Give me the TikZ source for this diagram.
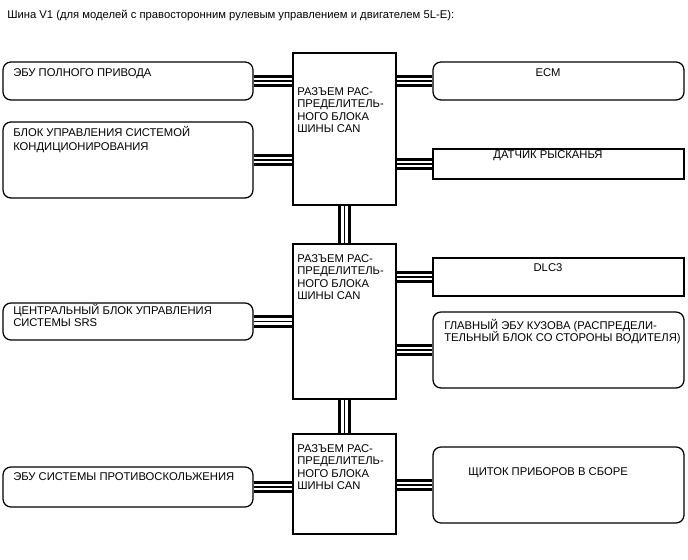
\documentclass[tikz,border=0pt]{standalone}
\usepackage{fontspec}
\setmainfont{Liberation Sans}
\usetikzlibrary{positioning}

\begin{document}
\begin{tikzpicture}[every node/.style={font=\fontsize{8}{9}\selectfont}]
  \tikzstyle{RoundBox}=[draw, line width=0.9pt, rounded corners=0.2cm, minimum width=6.25cm, inner sep=0pt]
  \tikzstyle{SquareBox}=[draw, line width=0.9pt, minimum width=6.275cm, inner sep=0pt]
  \tikzstyle{JBox}=[draw, line width=0.9pt, minimum width=2.575cm, inner sep=0pt]
  \tikzstyle{Txt}=[anchor=base west, align=left, inner sep=0pt]
  \tikzstyle{CTxt}=[anchor=base, inner sep=0pt]
  \tikzstyle{Bus}=[line width=0.9pt, preaction={draw, line width=9.2pt}, preaction={draw, white, line width=4.6pt}]
  \useasboundingbox (0,0) rectangle (17.2,14);

  \node[Txt] (title) at (0.175,13.525) {Шина V1 (для моделей с правосторонним рулевым управлением и двигателем 5L-E):};

  % junction blocks (multi-line texts are placed by their last line)
  \node[JBox, minimum height=3.8cm] (jb1) at (8.6125,10.775) {};
  \node[JBox, minimum height=3.875cm] (jb2) at (8.6125,5.9625) {};
  \node[JBox, minimum height=2.5cm] (jb3) at (8.6125,1.9) {};
  \node[Txt] (jb1t) at (7.425,10.675) {РАЗЪЕМ РАС-\\ПРЕДЕЛИТЕЛЬ-\\НОГО БЛОКА\\ШИНЫ CAN};
  \node[Txt] (jb2t) at (7.425,6.5) {РАЗЪЕМ РАС-\\ПРЕДЕЛИТЕЛЬ-\\НОГО БЛОКА\\ШИНЫ CAN};
  \node[Txt] (jb3t) at (7.425,1.75) {РАЗЪЕМ РАС-\\ПРЕДЕЛИТЕЛЬ-\\НОГО БЛОКА\\ШИНЫ CAN};

  % left side
  \node[RoundBox, minimum height=0.95cm] (awd) at (3.2,11.975) {};
  \node[RoundBox, minimum height=1.9cm] (aircon) at (3.2,10.0) {};
  \node[RoundBox, minimum height=0.925cm] (srs) at (3.2,5.9625) {};
  \node[RoundBox, minimum height=1.0cm] (abs) at (3.2,1.825) {};
  \node[Txt] (awdt) at (0.325,12.075) {ЭБУ ПОЛНОГО ПРИВОДА};
  \node[Txt, font=\fontsize{8}{10}\selectfont] (aircont) at (0.325,10.225) {БЛОК УПРАВЛЕНИЯ СИСТЕМОЙ\\КОНДИЦИОНИРОВАНИЯ};
  \node[Txt] (srst) at (0.325,5.825) {ЦЕНТРАЛЬНЫЙ БЛОК УПРАВЛЕНИЯ\\СИСТЕМЫ SRS};
  \node[Txt] (abst) at (0.325,1.975) {ЭБУ СИСТЕМЫ ПРОТИВОСКОЛЬЖЕНИЯ};

  % right side
  \node[RoundBox, minimum width=6.275cm, minimum height=0.95cm] (ecm) at (13.9625,11.975) {};
  \node[SquareBox, minimum height=0.75cm] (yaw) at (13.9625,9.9) {};
  \node[SquareBox, minimum height=0.95cm] (dlc) at (13.9625,7.075) {};
  \node[RoundBox, minimum width=6.275cm, minimum height=1.9cm] (body) at (13.9625,5.25) {};
  \node[RoundBox, minimum width=6.275cm, minimum height=1.9cm] (meter) at (13.9625,1.875) {};
  \node[CTxt] (ecmt) at (13.7,12.075) {ECM};
  \node[CTxt] (yawt) at (13.7,10.025) {ДАТЧИК РЫСКАНЬЯ};
  \node[CTxt] (dlct) at (13.7,7.2) {DLC3};
  \node[Txt] (bodyt) at (11.1,5.45) {ГЛАВНЫЙ ЭБУ КУЗОВА (РАСПРЕДЕЛИ-\\ТЕЛЬНЫЙ БЛОК СО СТОРОНЫ ВОДИТЕЛЯ)};
  \node[CTxt] (metert) at (13.7,2.1) {ЩИТОК ПРИБОРОВ В СБОРЕ};

  % bus lines
  \draw[Bus] (awd.east) -- (awd.east -| jb1.west);
  \draw[Bus] (aircon.east) -- (aircon.east -| jb1.west);
  \draw[Bus] (srs.east) -- (srs.east -| jb2.west);
  \draw[Bus] (abs.east) -- (abs.east -| jb3.west);
  \draw[Bus] (ecm.west -| jb1.east) -- (ecm.west);
  \draw[Bus] (yaw.west -| jb1.east) -- (yaw.west);
  \draw[Bus] (dlc.west -| jb2.east) -- (dlc.west);
  \draw[Bus] (body.west -| jb2.east) -- (body.west);
  \draw[Bus] (meter.west -| jb3.east) -- (meter.west);
  \draw[Bus] (jb1.south) -- (jb2.north);
  \draw[Bus] (jb2.south) -- (jb3.north);
\end{tikzpicture}
\end{document}
